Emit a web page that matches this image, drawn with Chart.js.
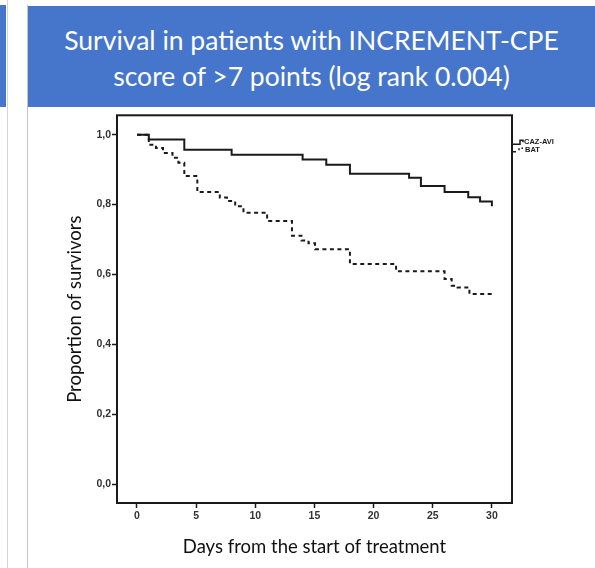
<!DOCTYPE html>
<html><head><meta charset="utf-8">
<script src="https://cdn.jsdelivr.net/npm/chart.js@4.4.1/dist/chart.umd.min.js"></script>
<style>
html,body{margin:0;padding:0;background:#fff;width:595px;height:568px;overflow:hidden;position:relative;font-family:Lato,sans-serif;}
#sliver{position:absolute;left:0;top:5px;width:6px;height:102px;background:#4676CB;}
#vl1{position:absolute;left:7px;top:0;width:1px;height:568px;background:#d4d4d4;}
#vl2{position:absolute;left:27px;top:5px;width:1px;height:563px;background:#c4c4c4;}
#header{position:absolute;left:28px;top:6px;width:567px;height:101px;background:#4676CB;color:#fff;text-align:center;font-size:26.5px;line-height:36px;box-sizing:border-box;padding-top:16px;font-family:Lato,sans-serif;}
#wrap{position:absolute;left:28px;top:108px;width:567px;height:460px;}
</style></head>
<body>
<div id="sliver"></div><div id="vl1"></div><div id="vl2"></div>
<div id="header">Survival in patients with INCREMENT-CPE<br>score of &gt;7 points (log rank 0.004)</div>
<div id="wrap"><canvas id="c"></canvas></div>
<script>
const seriesLabels = ['CAZ-AVI', 'BAT'];
const cazDays = [0, 1, 4, 8, 14, 16, 18, 23, 24, 26, 28, 29, 30];
const cazSurv = [1.0, 0.986, 0.957, 0.943, 0.929, 0.914, 0.888, 0.877, 0.853, 0.836, 0.821, 0.809, 0.795];
const batDays = [0, 1.0, 1.6, 2.2, 3.0, 3.5, 4.0, 5.1, 7.0, 7.6, 8.3, 9.0, 11.0, 13.1, 13.9, 14.5, 15.05, 18.0, 21.9, 26.0, 26.6, 27.1, 28.1, 30.1];
const batSurv = [1.0, 0.971, 0.962, 0.948, 0.934, 0.920, 0.882, 0.836, 0.820, 0.810, 0.795, 0.777, 0.753, 0.711, 0.697, 0.689, 0.672, 0.630, 0.609, 0.587, 0.568, 0.563, 0.544, 0.544];
const xTicks = [0, 5, 10, 15, 20, 25, 30];
const yTicks = [0, 0.2, 0.4, 0.6, 0.8, 1.0];
const yTickLabels = ['0,0', '0,2', '0,4', '0,6', '0,8', '1,0'];
const xTitle = 'Days from the start of treatment';
const yTitle = 'Proportion of survivors';

const INK = '#1a1a1a';
const tickFont = {family: '"Liberation Sans", Arial, sans-serif', size: 10.5, weight: 'bold'};
const titleFont = {family: 'Lato, sans-serif', size: 18.5};

const framePlugin = {
  id: 'frame',
  afterDraw(chart) {
    const {ctx, chartArea: a} = chart;
    ctx.save();
    ctx.strokeStyle = INK; ctx.lineWidth = 2;
    ctx.strokeRect(a.left, a.top, a.right - a.left, a.bottom - a.top);
    ctx.restore();
  }
};

const legendPlugin = {
  id: 'kmLegend',
  afterDraw(chart) {
    const {ctx, chartArea: a} = chart;
    const x0 = a.right + 1, y0 = a.top + 29;
    ctx.save();
    ctx.strokeStyle = INK; ctx.lineWidth = 1.5;
    ctx.beginPath();
    ctx.moveTo(x0, y0); ctx.lineTo(x0 + 7, y0); ctx.lineTo(x0 + 7, y0 - 4); ctx.lineTo(x0 + 10, y0 - 4); ctx.lineTo(x0 + 10, y0 - 2);
    ctx.stroke();
    ctx.beginPath();
    ctx.moveTo(x0, y0 + 7.5); ctx.lineTo(x0 + 3, y0 + 7.5);
    ctx.moveTo(x0 + 6, y0 + 4); ctx.lineTo(x0 + 6, y0 + 6);
    ctx.moveTo(x0 + 8.5, y0 + 4); ctx.lineTo(x0 + 10, y0 + 4);
    ctx.stroke();
    ctx.fillStyle = INK;
    ctx.font = 'bold 7.5px "Liberation Sans", Arial, sans-serif';
    ctx.textBaseline = 'middle';
    ctx.fillText(seriesLabels[0], x0 + 11, y0 - 2);
    ctx.fillText(seriesLabels[1], x0 + 12, y0 + 6);
    ctx.restore();
  }
};

new Chart(document.getElementById('c'), {
  type: 'line',
  data: {
    datasets: [
      {label: seriesLabels[0], data: cazDays.map((d, i) => ({x: d, y: cazSurv[i]})),
       stepped: 'before', borderColor: INK, borderWidth: 2, pointRadius: 0, fill: false},
      {label: seriesLabels[1], data: batDays.map((d, i) => ({x: d, y: batSurv[i]})),
       stepped: 'before', borderColor: INK, borderWidth: 2, borderDash: [4, 3.5], pointRadius: 0, fill: false}
    ]
  },
  options: {
    responsive: true, maintainAspectRatio: false, animation: false,
    layout: {padding: {left: 36, right: 83, top: 6, bottom: 10}},
    plugins: {legend: {display: false}, tooltip: {enabled: false}},
    scales: {
      x: {
        type: 'linear', min: -1.69, max: 31.7,
        afterBuildTicks: s => { s.ticks = xTicks.map(v => ({value: v})); },
        afterFit: s => { s.height = 55; },
        ticks: {font: tickFont, color: '#333', padding: 2, maxRotation: 0, autoSkip: false},
        grid: {drawOnChartArea: false, drawTicks: true, tickLength: 5, tickColor: INK, tickWidth: 1.5},
        border: {display: false},
        title: {display: true, text: xTitle, font: titleFont, color: '#111', padding: 0}
      },
      y: {
        type: 'linear', min: -0.0542, max: 1.0556,
        afterBuildTicks: s => { s.ticks = yTicks.map(v => ({value: v})); },
        afterFit: s => { s.width = 53; },
        ticks: {font: tickFont, color: '#333', padding: 1, autoSkip: false,
                callback: (v, i) => yTickLabels[i]},
        grid: {drawOnChartArea: false, drawTicks: true, tickLength: 5, tickColor: INK, tickWidth: 1.5},
        border: {display: false},
        title: {display: true, text: yTitle, font: titleFont, color: '#111', padding: 0}
      }
    }
  },
  plugins: [framePlugin, legendPlugin]
});
</script>
</body></html>
